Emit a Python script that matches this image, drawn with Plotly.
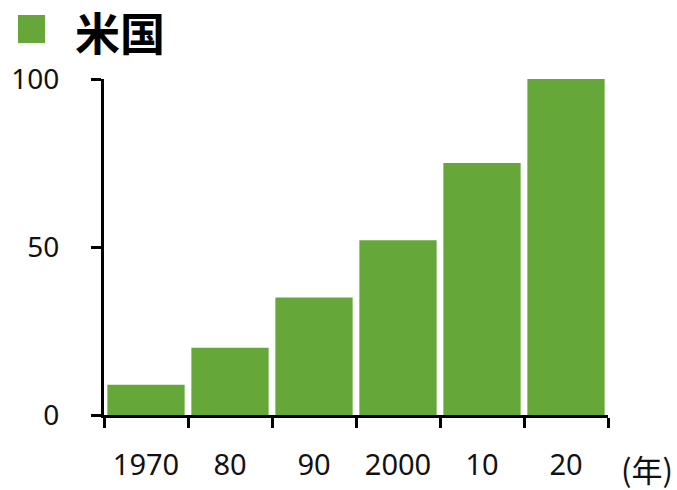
import plotly.graph_objects as go

# Data
categories = ["1970", "80", "90", "2000", "10", "20"]
values = [9, 20, 35, 52, 75, 100]
y_ticks = [0, 50, 100]
title_text = "米国"
unit_text = "(年)"

GREEN = "#66a73a"
W, H = 677, 490
ML, MR, MT, MB = 104, 69, 79, 75
PW, PH = W - ML - MR, H - MT - MB


def px_x(px):
    return (px - ML) / PW


def px_y(py):
    return (H - MB - py) / PH


fig = go.Figure(
    go.Bar(
        x=categories,
        y=values,
        marker=dict(color=GREEN, line=dict(width=0)),
        hoverinfo="skip",
    )
)

fig.update_layout(
    width=W,
    height=H,
    margin=dict(l=ML, r=MR, t=MT, b=MB, pad=0, autoexpand=False),
    paper_bgcolor="white",
    plot_bgcolor="white",
    bargap=0.08,
    showlegend=False,
    font=dict(family="Noto Sans, Noto Sans CJK JP", size=29, color="#111111"),
    xaxis=dict(
        type="category",
        automargin=False,
        showline=True,
        linecolor="black",
        linewidth=3,
        ticks="outside",
        tickson="boundaries",
        ticklen=10,
        tickwidth=3,
        tickcolor="black",
        showgrid=False,
        zeroline=False,
        ticklabelstandoff=22,
        tickfont=dict(size=29),
    ),
    yaxis=dict(
        range=[0, 100],
        automargin=False,
        tickvals=y_ticks,
        showline=True,
        linecolor="black",
        linewidth=3,
        ticks="outside",
        ticklen=10,
        tickwidth=3,
        tickcolor="black",
        showgrid=False,
        zeroline=False,
        ticklabelstandoff=26,
        tickfont=dict(size=28),
    ),
    shapes=[
        dict(
            type="rect",
            xref="paper",
            yref="paper",
            x0=px_x(18),
            x1=px_x(45),
            y0=px_y(43),
            y1=px_y(15),
            fillcolor=GREEN,
            line=dict(width=0),
        )
    ],
    annotations=[
        dict(
            text=f"<b>{title_text}</b>",
            xref="paper",
            yref="paper",
            x=px_x(73),
            y=px_y(31),
            xanchor="left",
            yanchor="middle",
            showarrow=False,
            font=dict(family="Noto Sans CJK JP", size=45, color="black"),
        ),
        dict(
            text=unit_text,
            xref="paper",
            yref="paper",
            x=px_x(647),
            y=px_y(468),
            xanchor="center",
            yanchor="middle",
            showarrow=False,
            font=dict(family="Noto Sans CJK JP", size=31, color="#111111"),
        ),
    ],
)

fig.write_html("out.html")
